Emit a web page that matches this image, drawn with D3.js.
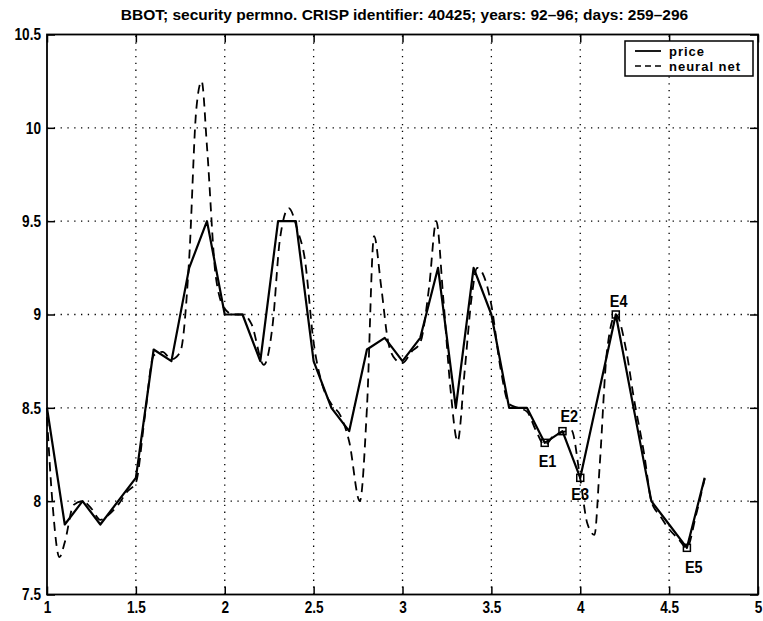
<!DOCTYPE html>
<html>
<head>
<meta charset="utf-8">
<script src="https://cdn.jsdelivr.net/npm/d3@7"></script>
<style>
  html, body { margin: 0; padding: 0; background: #fff; }
  svg { display: block; }
  text { fill: #000; font-family: "Liberation Sans", Arial, Helvetica, sans-serif; }
</style>
</head>
<body>
<svg id="chart" width="763" height="621"></svg>
<script>
// Daily closing price (step 0.1 per trading day, days 259-296)
const priceX = [1.0, 1.1, 1.2, 1.3, 1.4, 1.5, 1.6, 1.7, 1.8, 1.9,
                2.0, 2.1, 2.2, 2.3, 2.4, 2.5, 2.6, 2.7, 2.8, 2.9,
                3.0, 3.1, 3.2, 3.3, 3.4, 3.5, 3.6, 3.7, 3.8, 3.9,
                4.0, 4.1, 4.2, 4.3, 4.4, 4.5, 4.6, 4.7];
const priceY = [8.5, 7.875, 8.0, 7.875, 8.0, 8.125, 8.8125, 8.75, 9.25, 9.5,
                9.0, 9.0, 8.75, 9.5, 9.5, 8.75, 8.5, 8.375, 8.8125, 8.875,
                8.75, 8.875, 9.25, 8.5, 9.25, 9.0, 8.5, 8.5, 8.3125, 8.375,
                8.125, 8.5625, 9.0, 8.5, 8.0, 7.875, 7.75, 8.125];

// Neural network output
const nnX = [1.0, 1.03, 1.07, 1.1, 1.15, 1.2, 1.25, 1.3, 1.35, 1.4, 1.45, 1.5,
             1.55, 1.6, 1.65, 1.7, 1.75, 1.8, 1.84, 1.87, 1.9, 1.95, 2.0,
             2.05, 2.1, 2.15, 2.22, 2.27, 2.31, 2.36, 2.41, 2.45, 2.5, 2.55,
             2.6, 2.65, 2.7, 2.76, 2.8, 2.84, 2.88, 2.92, 2.96, 3.0, 3.05,
             3.1, 3.15, 3.19, 3.23, 3.27, 3.31, 3.35, 3.39, 3.42, 3.46, 3.5,
             3.55, 3.6, 3.65, 3.7, 3.75, 3.8, 3.85, 3.9, 3.95, 4.0, 4.04,
             4.08, 4.11, 4.15, 4.2, 4.26, 4.3, 4.36, 4.4, 4.45, 4.5, 4.55,
             4.6, 4.65, 4.7];
const nnY = [8.45, 8.0, 7.70, 7.78, 7.98, 8.0, 7.96, 7.90, 7.93, 7.98, 8.05, 8.1,
             8.45, 8.78, 8.80, 8.76, 8.80, 9.3, 10.1, 10.25, 9.9, 9.2, 9.03,
             9.0, 9.0, 8.95, 8.73, 8.95, 9.4, 9.57, 9.45, 9.3, 8.85, 8.62,
             8.52, 8.46, 8.32, 8.0, 8.5, 9.42, 9.15, 8.85, 8.76, 8.74, 8.8,
             8.85, 9.15, 9.5, 9.08, 8.6, 8.32, 8.7, 9.1, 9.25, 9.2, 9.05,
             8.72, 8.52, 8.5, 8.48, 8.38, 8.3, 8.35, 8.37, 8.38, 8.12, 7.88,
             7.82, 8.2, 8.8, 9.0, 8.8, 8.56, 8.25, 8.0, 7.92, 7.85, 7.8,
             7.75, 7.92, 8.12];

// Marked events on the price series
const eventLabels = ["E1", "E2", "E3", "E4", "E5"];
const eventX = [3.8, 3.9, 4.0, 4.2, 4.6];
const eventY = [8.3125, 8.375, 8.125, 9.0, 7.75];

const xTicks = [1, 1.5, 2, 2.5, 3, 3.5, 4, 4.5, 5];
const yTicks = [7.5, 8, 8.5, 9, 9.5, 10, 10.5];
const titleText = "BBOT; security permno. CRISP identifier: 40425; years: 92\u201396; days: 259\u2013296";
const seriesNames = ["price", "neural net"];

const svg = d3.select("#chart");
const x = d3.scaleLinear().domain([1, 5]).range([47, 758]);
const y = d3.scaleLinear().domain([7.5, 10.5]).range([594.5, 34.5]);

// squeeze a text element horizontally to a fraction of its natural width
function condense(sel, f) {
  sel.each(function () {
    const w = this.getComputedTextLength();
    if (w > 0) d3.select(this).attr("textLength", w * f).attr("lengthAdjust", "spacingAndGlyphs");
  });
}

// dotted grid
const grid = svg.append("g").attr("stroke", "#000").attr("stroke-width", 1.3)
  .attr("stroke-dasharray", "1.3,5.5").attr("stroke-linecap", "butt");
grid.selectAll("line.gx").data(xTicks.slice(1, -1)).join("line")
  .attr("x1", d => x(d)).attr("x2", d => x(d)).attr("y1", y(7.5)).attr("y2", y(10.5));
grid.selectAll("line.gy").data(yTicks.slice(1, -1)).join("line")
  .attr("x1", x(1)).attr("x2", x(5)).attr("y1", d => y(d)).attr("y2", d => y(d));

// axes with inward ticks, labels on bottom and left
const tickFont = g => g.selectAll("text")
  .style("font-size", "17px").style("font-weight", "bold").call(condense, 0.8);
svg.append("g").attr("transform", `translate(0,${y(7.5)})`)
  .call(d3.axisBottom(x).tickValues(xTicks).tickFormat(d3.format("")).tickSizeInner(-8).tickSizeOuter(0).tickPadding(6))
  .call(g => g.select(".domain").remove())
  .call(tickFont);
svg.append("g").attr("transform", `translate(${x(1)},0)`)
  .call(d3.axisLeft(y).tickValues(yTicks).tickFormat(d3.format("")).tickSizeInner(-8).tickSizeOuter(0).tickPadding(6))
  .call(g => g.select(".domain").remove())
  .call(tickFont);
svg.append("g").attr("transform", `translate(0,${y(10.5)})`)
  .call(d3.axisTop(x).tickValues(xTicks).tickFormat("").tickSizeInner(-8).tickSizeOuter(0))
  .call(g => g.select(".domain").remove());
svg.append("g").attr("transform", `translate(${x(5)},0)`)
  .call(d3.axisRight(y).tickValues(yTicks).tickFormat("").tickSizeInner(-8).tickSizeOuter(0))
  .call(g => g.select(".domain").remove());
svg.selectAll(".tick line").attr("stroke-width", 1.5);

// frame
svg.append("rect").attr("x", x(1)).attr("y", y(10.5))
  .attr("width", x(5) - x(1)).attr("height", y(7.5) - y(10.5))
  .attr("fill", "none").attr("stroke", "#000").attr("stroke-width", 1.8);

// series
const priceLine = d3.line().x((d, i) => x(priceX[i])).y(d => y(d));
svg.append("path").datum(priceY).attr("d", priceLine)
  .attr("fill", "none").attr("stroke", "#000").attr("stroke-width", 2.2).attr("stroke-linejoin", "round");

const nnLine = d3.line().x((d, i) => x(nnX[i])).y(d => y(d)).curve(d3.curveMonotoneX);
svg.append("path").datum(nnY).attr("d", nnLine)
  .attr("fill", "none").attr("stroke", "#000").attr("stroke-width", 1.8)
  .attr("stroke-dasharray", "9,6");

// event markers
const ev = svg.append("g");
ev.selectAll("rect").data(eventX).join("rect")
  .attr("x", d => x(d) - 3.5).attr("y", (d, i) => y(eventY[i]) - 3.5)
  .attr("width", 7).attr("height", 7)
  .attr("fill", "none").attr("stroke", "#000").attr("stroke-width", 1.5);
const labelOffsets = [[-6, 24], [-2, -9], [-9, 22], [-6, -8], [-2, 25]];
ev.selectAll("text").data(eventLabels).join("text")
  .attr("x", (d, i) => x(eventX[i]) + labelOffsets[i][0])
  .attr("y", (d, i) => y(eventY[i]) + labelOffsets[i][1])
  .style("font-size", "17px").style("font-weight", "bold")
  .text(d => d)
  .call(condense, 0.85);

// title
svg.append("text").attr("x", (x(1) + x(5)) / 2 + 2).attr("y", 20)
  .attr("text-anchor", "middle").style("font-size", "15.5px").style("font-weight", "bold")
  .text(titleText);

// legend
const lg = svg.append("g").attr("transform", "translate(625,41)");
lg.append("rect").attr("width", 128).attr("height", 35)
  .attr("fill", "#fff").attr("stroke", "#000").attr("stroke-width", 1.5);
const dashes = [null, "6,4"];
seriesNames.forEach((name, i) => {
  const yy = 10 + i * 15;
  lg.append("line").attr("x1", 10).attr("x2", 36).attr("y1", yy).attr("y2", yy)
    .attr("stroke", "#000").attr("stroke-width", i ? 1.6 : 1.8)
    .attr("stroke-dasharray", dashes[i]);
  lg.append("text").attr("x", 44).attr("y", yy + 4.5)
    .style("font-size", "13px").style("font-weight", "bold")
    .style("letter-spacing", "1px").text(name);
});
</script>
</body>
</html>
